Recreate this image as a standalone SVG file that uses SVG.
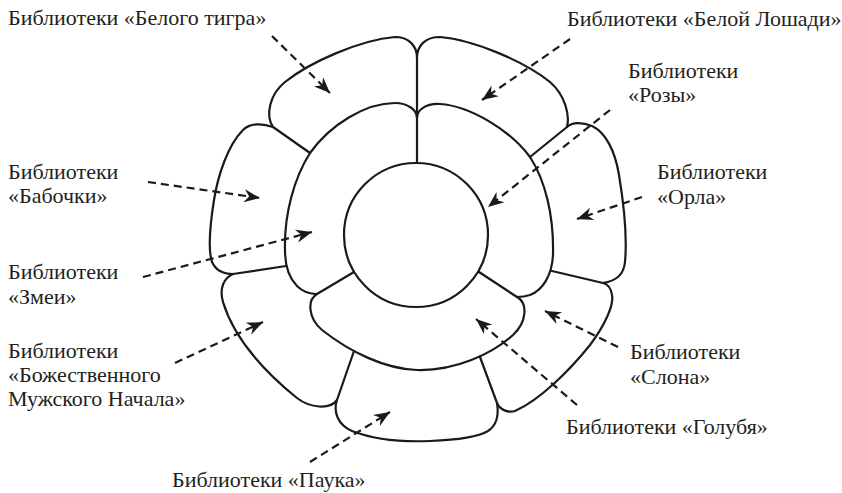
<svg xmlns="http://www.w3.org/2000/svg" width="842" height="493" viewBox="0 0 842 493">
<style>
.p{fill:none;stroke:#1a1a1a;stroke-width:2.2;stroke-linejoin:round;stroke-linecap:round}
.a{fill:none;stroke:#1a1a1a;stroke-width:2.2;stroke-dasharray:8 5;marker-end:url(#ah)}
.t{font-family:"Liberation Serif","Times New Roman",serif;font-size:22px;fill:#231f20}
</style>
<defs>
<marker id="ah" markerUnits="userSpaceOnUse" markerWidth="20" markerHeight="16" viewBox="-17 -8 19 16" refX="0" refY="0" orient="auto">
<path d="M0,0 L-16,-6.5 L-11,0 L-16,6.5 Z" fill="#1a1a1a"/>
</marker>
</defs>
<rect width="842" height="493" fill="#fff"/>
<g id="flower">
<g id="center"><circle class="p" cx="416" cy="235" r="72"/></g>
<g id="zmei"><path class="p" d="M417,163 L417,118 C417,110 408,103 395,103 C365,103 330,125 310,153 C294,178 284,215 285,250 C285,262 288,277 297,286 C303,292 310,294 317,294 L354,272"/></g>
<g id="rozy"><path class="p" d="M417,118 C417,110 426,103 440,104 C470,106 510,130 530,157 C545,180 554,215 553,255 C552,275 543,290 530,295 C524,297 520,297 517,297 L479,272"/></g>
<g id="golub"><path class="p" d="M317,294 C307,300 308,318 322,330 C350,352 385,369 417,370 C455,371 492,354 513,335 C527,322 528,303 517,297"/></g>
<g id="tigr"><path class="p" d="M417,118 L417,58 C417,45 408,37 395,37 C360,40 310,62 285,82 C270,94 265,115 273,127 L310,153"/></g>
<g id="loshad"><path class="p" d="M417,58 C417,45 426,37 440,37 C475,40 525,62 550,82 C565,95 570,115 567,127 L530,157"/></g>
<g id="babochka"><path class="p" d="M273,127 C262,123 250,123 243,130 C228,145 218,175 214,200 C210,225 208,250 212,262 C216,271 224,274 233,274 L286,266"/></g>
<g id="orel"><path class="p" d="M567,127 C572,122 582,122 592,126 C605,132 615,150 619,175 C624,205 627,240 625,262 C624,273 617,281 603,283 L552,271"/></g>
<g id="bozh"><path class="p" d="M233,274 C224,278 219,288 223,302 C233,335 260,368 297,398 C310,408 330,410 337,400 L354,351"/></g>
<g id="pauk"><path class="p" d="M337,400 C333,412 338,425 352,431 C375,440 405,442 430,441 C455,440 478,437 488,431 C497,425 499,415 497,403 L480,357"/></g>
<g id="slon"><path class="p" d="M497,403 C500,410 508,413 515,411 C540,400 570,370 590,345 C605,325 614,305 612,295 C611,288 607,284 603,283"/></g>
</g>
<g id="connectors">
<path class="a" d="M272,36 L330,93"/>
<path class="a" d="M570,39 L482,100"/>
<path class="a" d="M610,110 L488,207"/>
<path class="a" d="M642,197 L577,219"/>
<path class="a" d="M148,182 L260,198"/>
<path class="a" d="M143,277 L312,232"/>
<path class="a" d="M175,363 L263,322"/>
<path class="a" d="M310,462 L390,412"/>
<path class="a" d="M618,347 L545,311"/>
<path class="a" d="M577,405 L476,319"/>
</g>
<g id="labels" class="t" font-family="Liberation Serif, serif">
<text x="8" y="25">Библиотеки «Белого тигра»</text>
<text x="567" y="26">Библиотеки «Белой Лошади»</text>
<text x="628" y="78">Библиотеки</text>
<text x="628" y="102">«Розы»</text>
<text x="657" y="179">Библиотеки</text>
<text x="657" y="204">«Орла»</text>
<text x="8" y="179">Библиотеки</text>
<text x="8" y="203">«Бабочки»</text>
<text x="8" y="279">Библиотеки</text>
<text x="8" y="304">«Змеи»</text>
<text x="8" y="358">Библиотеки</text>
<text x="8" y="382">«Божественного</text>
<text x="8" y="406">Мужского Начала»</text>
<text x="172" y="487">Библиотеки «Паука»</text>
<text x="630" y="359">Библиотеки</text>
<text x="630" y="384">«Слона»</text>
<text x="566" y="434">Библиотеки «Голубя»</text>
</g>
</svg>
